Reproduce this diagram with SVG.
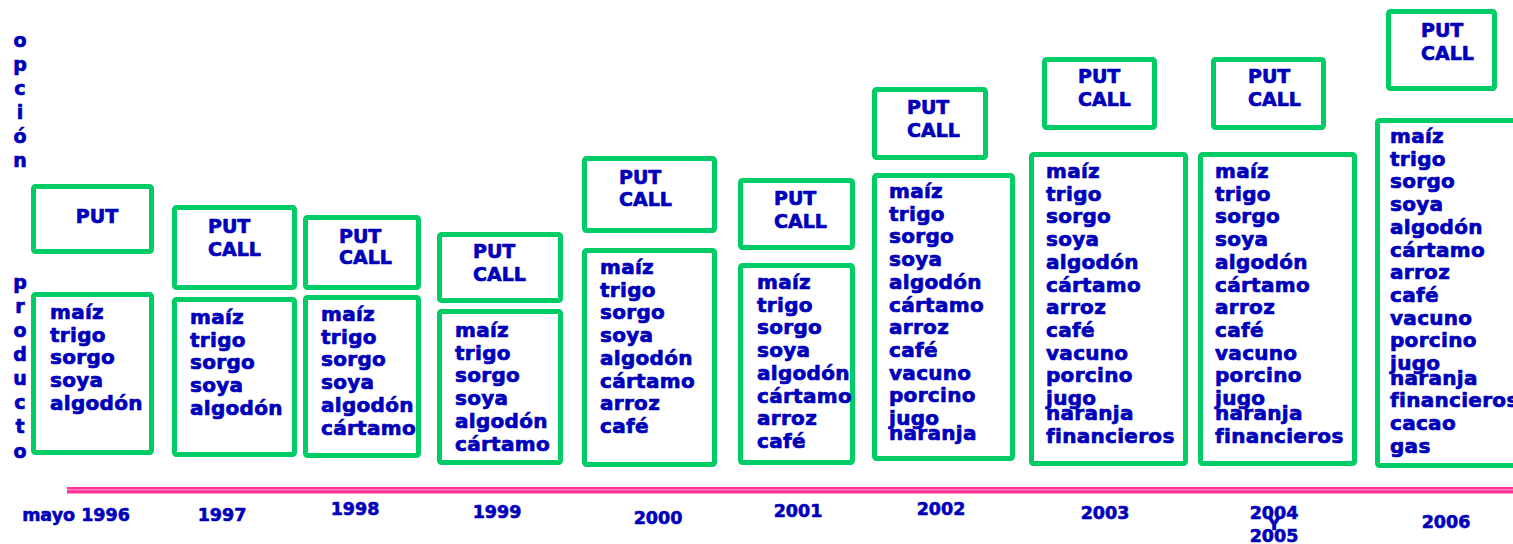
<svg xmlns="http://www.w3.org/2000/svg" width="1513" height="544" viewBox="0 0 1513 544">
<style>
.box{fill:none;stroke:#00CC66;stroke-width:5;rx:2}
text{font-family:"DejaVu Sans","Liberation Sans",sans-serif;font-weight:bold;fill:#0000BB;stroke:#0000BB;stroke-width:0.7;stroke-linejoin:round}
.opt{font-size:19px}
.prod{font-size:20px;letter-spacing:0.3px}
.yr{font-size:17.5px;text-anchor:middle;stroke-width:0.6}
.side{font-size:19px;text-anchor:middle}
</style>
<rect width="1513" height="544" fill="#ffffff"/>
<g id="axis-labels">
<text class="side" x="20" y="47">o</text>
<text class="side" x="20" y="71">p</text>
<text class="side" x="20" y="95">c</text>
<text class="side" x="20" y="119">i</text>
<text class="side" x="20" y="143">ó</text>
<text class="side" x="20" y="167">n</text>
<text class="side" x="20" y="289">p</text>
<text class="side" x="20" y="313">r</text>
<text class="side" x="20" y="337">o</text>
<text class="side" x="20" y="361">d</text>
<text class="side" x="20" y="385">u</text>
<text class="side" x="20" y="409">c</text>
<text class="side" x="20" y="433">t</text>
<text class="side" x="20" y="458">o</text>
</g>
<g id="connectors">
<rect x="67" y="487" width="1446" height="6.5" fill="#FF3399"/>
<line x1="67" y1="489.8" x2="1513" y2="489.8" stroke="#FF9CCB" stroke-width="1"/>
</g>
<g id="y1996">
<rect class="box" x="33.5" y="186.5" width="118" height="65"/>
<text class="opt" x="97" y="223" text-anchor="middle">PUT</text>
<rect class="box" x="33.5" y="294.5" width="118" height="158"/>
<text class="prod" x="50" y="319"><tspan x="50">maíz</tspan><tspan x="50" dy="22.7">trigo</tspan><tspan x="50" dy="22.7">sorgo</tspan><tspan x="50" dy="22.7">soya</tspan><tspan x="50" dy="22.7">algodón</tspan></text>
<text class="yr" x="76" y="521">mayo 1996</text>
</g>
<g id="y1997">
<rect class="box" x="174.5" y="207.5" width="120" height="80"/>
<text class="opt" x="208" y="233">PUT</text>
<text class="opt" x="208" y="256">CALL</text>
<rect class="box" x="174.5" y="299.5" width="120" height="155"/>
<text class="prod" x="190" y="324"><tspan x="190">maíz</tspan><tspan x="190" dy="22.7">trigo</tspan><tspan x="190" dy="22.7">sorgo</tspan><tspan x="190" dy="22.7">soya</tspan><tspan x="190" dy="22.7">algodón</tspan></text>
<text class="yr" x="222" y="521">1997</text>
</g>
<g id="y1998">
<rect class="box" x="305.5" y="217.5" width="113" height="70"/>
<text class="opt" x="339" y="243">PUT</text>
<text class="opt" x="339" y="264">CALL</text>
<rect class="box" x="305.5" y="297.5" width="113" height="158"/>
<text class="prod" x="321" y="321"><tspan x="321">maíz</tspan><tspan x="321" dy="22.7">trigo</tspan><tspan x="321" dy="22.7">sorgo</tspan><tspan x="321" dy="22.7">soya</tspan><tspan x="321" dy="22.7">algodón</tspan><tspan x="321" dy="22.7">cártamo</tspan></text>
<text class="yr" x="355" y="515">1998</text>
</g>
<g id="y1999">
<rect class="box" x="439.5" y="234.5" width="121" height="66"/>
<text class="opt" x="473" y="258">PUT</text>
<text class="opt" x="473" y="281">CALL</text>
<rect class="box" x="439.5" y="311.5" width="121" height="151"/>
<text class="prod" x="455" y="337"><tspan x="455">maíz</tspan><tspan x="455" dy="22.7">trigo</tspan><tspan x="455" dy="22.7">sorgo</tspan><tspan x="455" dy="22.7">soya</tspan><tspan x="455" dy="22.7">algodón</tspan><tspan x="455" dy="22.7">cártamo</tspan></text>
<text class="yr" x="497" y="518">1999</text>
</g>
<g id="y2000">
<rect class="box" x="584.5" y="158.5" width="130" height="72"/>
<text class="opt" x="619" y="184">PUT</text>
<text class="opt" x="619" y="206">CALL</text>
<rect class="box" x="584.5" y="250.5" width="130" height="214"/>
<text class="prod" x="600" y="274"><tspan x="600">maíz</tspan><tspan x="600" dy="22.7">trigo</tspan><tspan x="600" dy="22.7">sorgo</tspan><tspan x="600" dy="22.7">soya</tspan><tspan x="600" dy="22.7">algodón</tspan><tspan x="600" dy="22.7">cártamo</tspan><tspan x="600" dy="22.7">arroz</tspan><tspan x="600" dy="22.7">café</tspan></text>
<text class="yr" x="658" y="524">2000</text>
</g>
<g id="y2001">
<rect class="box" x="740.5" y="180.5" width="112" height="67"/>
<text class="opt" x="774" y="205">PUT</text>
<text class="opt" x="774" y="228">CALL</text>
<rect class="box" x="740.5" y="265.5" width="112" height="197"/>
<text class="prod" x="757" y="289"><tspan x="757">maíz</tspan><tspan x="757" dy="22.7">trigo</tspan><tspan x="757" dy="22.7">sorgo</tspan><tspan x="757" dy="22.7">soya</tspan><tspan x="757" dy="22.7">algodón</tspan><tspan x="757" dy="22.7">cártamo</tspan><tspan x="757" dy="22.7">arroz</tspan><tspan x="757" dy="22.7">café</tspan></text>
<text class="yr" x="798" y="517">2001</text>
</g>
<g id="y2002">
<rect class="box" x="874.5" y="89.5" width="111" height="68"/>
<text class="opt" x="907" y="114">PUT</text>
<text class="opt" x="907" y="137">CALL</text>
<rect class="box" x="874.5" y="175.5" width="138" height="283"/>
<text class="prod" x="889" y="198"><tspan x="889">maíz</tspan><tspan x="889" dy="22.7">trigo</tspan><tspan x="889" dy="22.7">sorgo</tspan><tspan x="889" dy="22.7">soya</tspan><tspan x="889" dy="22.7">algodón</tspan><tspan x="889" dy="22.7">cártamo</tspan><tspan x="889" dy="22.7">arroz</tspan><tspan x="889" dy="22.7">café</tspan><tspan x="889" dy="22.7">vacuno</tspan><tspan x="889" dy="22.7">porcino</tspan><tspan x="889" dy="22.7">jugo</tspan><tspan x="889" dy="14.5">naranja</tspan></text>
<text class="yr" x="941" y="515">2002</text>
</g>
<g id="y2003">
<rect class="box" x="1044.5" y="59.5" width="110" height="68"/>
<text class="opt" x="1078" y="83">PUT</text>
<text class="opt" x="1078" y="106">CALL</text>
<rect class="box" x="1031.5" y="154.5" width="154" height="309"/>
<text class="prod" x="1046" y="178"><tspan x="1046">maíz</tspan><tspan x="1046" dy="22.7">trigo</tspan><tspan x="1046" dy="22.7">sorgo</tspan><tspan x="1046" dy="22.7">soya</tspan><tspan x="1046" dy="22.7">algodón</tspan><tspan x="1046" dy="22.7">cártamo</tspan><tspan x="1046" dy="22.7">arroz</tspan><tspan x="1046" dy="22.7">café</tspan><tspan x="1046" dy="22.7">vacuno</tspan><tspan x="1046" dy="22.7">porcino</tspan><tspan x="1046" dy="22.7">jugo</tspan><tspan x="1046" dy="14.5">naranja</tspan><tspan x="1046" dy="23.5">financieros</tspan></text>
<text class="yr" x="1105" y="519">2003</text>
</g>
<g id="y2004-2005">
<rect class="box" x="1213.5" y="59.5" width="110" height="68"/>
<text class="opt" x="1248" y="83">PUT</text>
<text class="opt" x="1248" y="106">CALL</text>
<rect class="box" x="1200.5" y="154.5" width="154" height="309"/>
<text class="prod" x="1215" y="178"><tspan x="1215">maíz</tspan><tspan x="1215" dy="22.7">trigo</tspan><tspan x="1215" dy="22.7">sorgo</tspan><tspan x="1215" dy="22.7">soya</tspan><tspan x="1215" dy="22.7">algodón</tspan><tspan x="1215" dy="22.7">cártamo</tspan><tspan x="1215" dy="22.7">arroz</tspan><tspan x="1215" dy="22.7">café</tspan><tspan x="1215" dy="22.7">vacuno</tspan><tspan x="1215" dy="22.7">porcino</tspan><tspan x="1215" dy="22.7">jugo</tspan><tspan x="1215" dy="14.5">naranja</tspan><tspan x="1215" dy="23.5">financieros</tspan></text>
<text class="yr" x="1274" y="519">2004</text>
<text class="yr" x="1274" y="530">Y</text>
<text class="yr" x="1274" y="542">2005</text>
</g>
<g id="y2006">
<rect class="box" x="1388.5" y="11.5" width="106" height="77"/>
<text class="opt" x="1421" y="37">PUT</text>
<text class="opt" x="1421" y="60">CALL</text>
<rect class="box" x="1377.5" y="120.5" width="150" height="345"/>
<text class="prod" x="1390" y="143"><tspan x="1390">maíz</tspan><tspan x="1390" dy="22.7">trigo</tspan><tspan x="1390" dy="22.7">sorgo</tspan><tspan x="1390" dy="22.7">soya</tspan><tspan x="1390" dy="22.7">algodón</tspan><tspan x="1390" dy="22.7">cártamo</tspan><tspan x="1390" dy="22.7">arroz</tspan><tspan x="1390" dy="22.7">café</tspan><tspan x="1390" dy="22.7">vacuno</tspan><tspan x="1390" dy="22.7">porcino</tspan><tspan x="1390" dy="22.7">jugo</tspan><tspan x="1390" dy="14.5">naranja</tspan><tspan x="1390" dy="22.7">financieros</tspan><tspan x="1390" dy="22.7">cacao</tspan><tspan x="1390" dy="22.7">gas</tspan></text>
<text class="yr" x="1446" y="528">2006</text>
</g>
</svg>
